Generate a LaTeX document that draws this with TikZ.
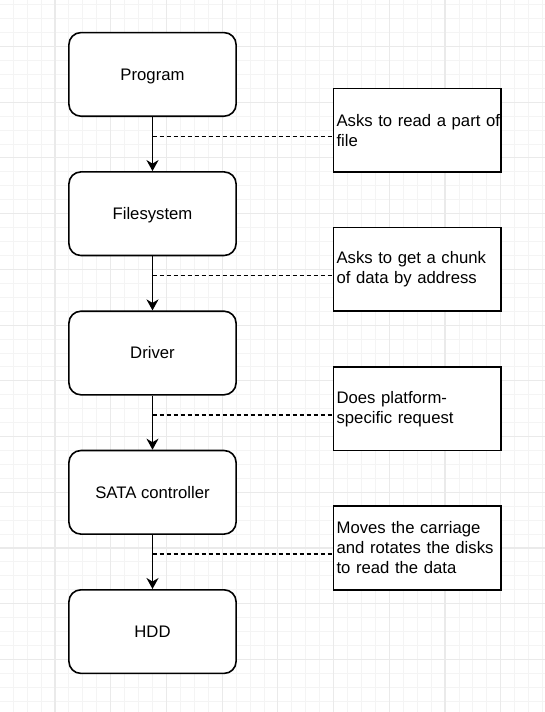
\documentclass[tikz,border=0pt]{standalone}
\usepackage{fontspec}
\setmainfont{Liberation Sans}
\usetikzlibrary{arrows.meta,calc}
\definecolor{minorgrid}{HTML}{F4F4F4}
\definecolor{majorgrid}{HTML}{EAEAEA}
\tikzset{
  mainbox/.style={draw=black, line width=1.6pt, rounded corners=12pt, fill=white,
    minimum width=167.2pt, minimum height=83.6pt, inner sep=0pt,
    text height=11.9pt, text depth=0.5pt,
    font=\fontsize{16.7}{20}\selectfont},
  notebox/.style={draw=black, line width=1.6pt, fill=white,
    minimum width=167.2pt, minimum height=83.6pt, inner xsep=3pt, inner ysep=0pt,
    text width=161.2pt, align=left, font=\fontsize{16.7}{20}\selectfont},
  arr/.style={line width=1.6pt, -{Stealth[length=11pt,width=12pt,inset=3.5pt]}},
  dashline/.style={line width=1.5pt, dash pattern=on 4pt off 3pt},
  minorline/.style={minorgrid, line width=0.9pt},
  majorline/.style={majorgrid, line width=1.1pt}
}
\begin{document}
\begin{tikzpicture}[x=1pt,y=-1pt]
\useasboundingbox (0,0) rectangle (545,712);
\fill[white] (0,0) rectangle (545,712);
% grid
\foreach \i in {-3,...,35} {
  \draw[minorline] ({55+13.93*\i},0) -- ({55+13.93*\i},712);
}
\foreach \j in {-3,...,48} {
  \draw[minorline] (0,{46.5+13.93*\j}) -- (545,{46.5+13.93*\j});
}
\foreach \i in {-1,0,...,9} {
  \draw[majorline] ({55+55.72*\i},0) -- ({55+55.72*\i},712);
}
\foreach \j in {-1,0,...,12} {
  \draw[majorline] (0,{46.5+55.72*\j}) -- (545,{46.5+55.72*\j});
}
% main boxes
\node[mainbox] (p) at (152.5,74.4) {Program};
\node[mainbox] (f) at (152.5,213.7) {Filesystem};
\node[mainbox] (d) at (152.5,353.0) {Driver};
\node[mainbox] (s) at (152.5,492.3) {SATA controller};
\node[mainbox] (h) at (152.5,631.6) {HDD};
% notes
\node[notebox] (n1) at (417.2,130.1) {\mbox{Asks to read a part of}\\\mbox{file}};
\node[notebox] (n2) at (417.2,269.4) {\mbox{Asks to get a chunk}\\\mbox{of data by address}};
\node[notebox] (n3) at (417.2,408.7) {\mbox{Does platform-}\\\mbox{specific request}};
\node[notebox] (n4) at (417.2,548.0) {\mbox{Moves the carriage}\\\mbox{and rotates the disks}\\\mbox{to read the data}};
% arrows
\draw[arr] (p.south) -- (f.north);
\draw[arr] (f.south) -- (d.north);
\draw[arr] (d.south) -- (s.north);
\draw[arr] (s.south) -- (h.north);
% dashed connectors
\coordinate (c1) at ($(p.south)+(0,19.3)$);
\coordinate (c2) at ($(f.south)+(0,19.3)$);
\coordinate (c3) at ($(d.south)+(0,19.3)$);
\coordinate (c4) at ($(s.south)+(0,19.3)$);
\draw[dashline] (c1) -- (c1 -| n1.west);
\draw[dashline] (c2) -- (c2 -| n2.west);
\draw[dashline] (c3) -- (c3 -| n3.west);
\draw[dashline] (c4) -- (c4 -| n4.west);
\end{tikzpicture}
\end{document}
